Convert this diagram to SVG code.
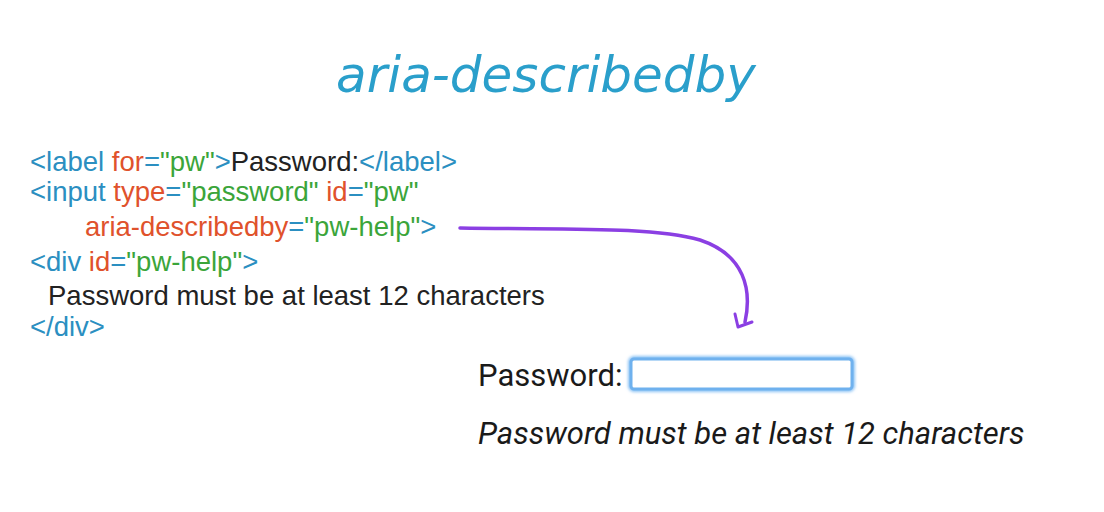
<svg xmlns="http://www.w3.org/2000/svg" width="1104" height="512" viewBox="0 0 1104 512">
<defs>
<style>
.code{font-family:"Liberation Sans",Arial,sans-serif;font-size:27.5px}
.t{fill:#2b8fc1}.a{fill:#e0522c}.s{fill:#3ba53a}.x{fill:#222}
.ui{font-family:Roboto,"Liberation Sans",sans-serif;font-size:31px;fill:#1a1a1a}
</style>
<filter id="glow" x="-10%" y="-30%" width="120%" height="160%"><feGaussianBlur stdDeviation="1.5"/></filter>
</defs>
<rect width="1104" height="512" fill="#fff"/>
<g id="title"><text x="546" y="92" text-anchor="middle" font-family="'DejaVu Sans',sans-serif" font-style="italic" font-size="50" fill="#2a9fcb">aria-describedby</text></g>
<g id="code" class="code">
<text x="30" y="171"><tspan class="t">&lt;label </tspan><tspan class="a">for</tspan><tspan class="t">=</tspan><tspan class="s">"pw"</tspan><tspan class="t">&gt;</tspan><tspan class="x">Password:</tspan><tspan class="t">&lt;/label&gt;</tspan></text>
<text x="30" y="201"><tspan class="t">&lt;input </tspan><tspan class="a">type</tspan><tspan class="t">=</tspan><tspan class="s">"password" </tspan><tspan class="a">id</tspan><tspan class="t">=</tspan><tspan class="s">"pw"</tspan></text>
<text x="85" y="236"><tspan class="a">aria-describedby</tspan><tspan class="t">=</tspan><tspan class="s">"pw-help"</tspan><tspan class="t">&gt;</tspan></text>
<text x="30" y="271"><tspan class="t">&lt;div </tspan><tspan class="a">id</tspan><tspan class="t">=</tspan><tspan class="s">"pw-help"</tspan><tspan class="t">&gt;</tspan></text>
<text x="48" y="305" class="x">Password must be at least 12 characters</text>
<text x="30" y="336" class="t">&lt;/div&gt;</text>
</g>
<g id="connectors" fill="none" stroke="#8b3fe3" stroke-linecap="round" stroke-linejoin="round">
<path d="M460 228 C560 230 650 226 700 240 C745 255 752 290 745 322" stroke-width="3.5"/>
<path d="M735 314 L738 327 L752 322" stroke-width="3"/>
</g>
<g id="form">
<text x="478" y="386" class="ui">Password:</text>
<rect x="631" y="359" width="221" height="30" rx="3" fill="none" stroke="#8cc3f5" stroke-width="6" filter="url(#glow)"/>
<rect x="631" y="359" width="221" height="30" rx="3" fill="#fff" stroke="#6fb1ee" stroke-width="3"/>
<text x="478" y="444" class="ui" font-style="italic">Password must be at least 12 characters</text>
</g>
</svg>
